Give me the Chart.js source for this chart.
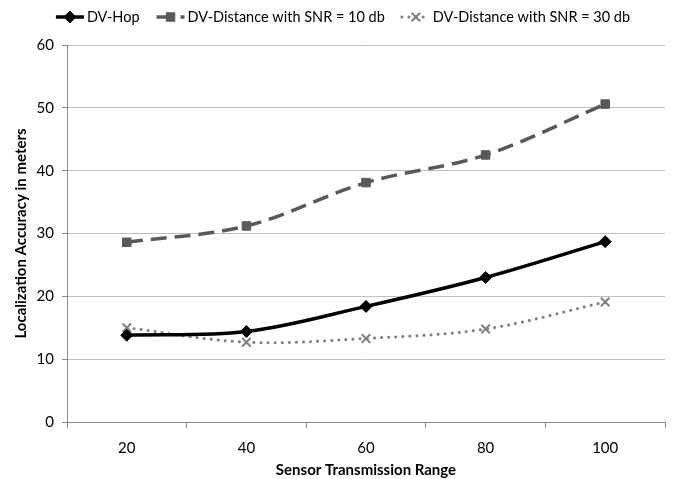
<!DOCTYPE html>
<html>
<head>
<meta charset="utf-8">
<script src="https://cdn.jsdelivr.net/npm/chart.js@4/dist/chart.umd.min.js"></script>
<style>
html,body{margin:0;padding:0;background:#fff;}
canvas{display:block;}
</style>
</head>
<body>
<canvas id="c" width="673" height="479"></canvas>
<script>
const categories = ["20", "40", "60", "80", "100"];
const dvHop = [13.8, 14.4, 18.4, 23.0, 28.7];
const dvDist10 = [28.6, 31.2, 38.1, 42.5, 50.6];
const dvDist30 = [15.0, 12.7, 13.3, 14.8, 19.1];
const seriesNames = ["DV-Hop", "DV-Distance with SNR = 10 db", "DV-Distance with SNR = 30 db"];
const yTitle = "Localization Accuracy in meters";
const xTitle = "Sensor Transmission Range";

const FONT = "Lato, 'Liberation Sans', sans-serif";

const legendPlugin = {
  id: 'customLegend',
  afterDraw(chart) {
    const ctx = chart.ctx;
    ctx.save();
    ctx.font = "14.5px " + FONT;
    ctx.textBaseline = 'middle';
    ctx.fillStyle = '#000';
    const lineLen = 28, gapText = 3, gapItem = 17;
    const ds = chart.data.datasets;
    let total = 0;
    const widths = ds.map(d => ctx.measureText(d.label).width);
    widths.forEach((w, i) => { total += lineLen + gapText + w + (i < widths.length - 1 ? gapItem : 0); });
    let x = 343 - total / 2;
    const y = 17;
    ds.forEach((d, i) => {
      ctx.save();
      ctx.strokeStyle = d.borderColor;
      ctx.lineWidth = d.borderWidth;
      ctx.lineCap = d.borderCapStyle || 'butt';
      ctx.setLineDash(d.legendDash || []);
      ctx.beginPath();
      ctx.moveTo(x, y);
      ctx.lineTo(x + lineLen, y);
      ctx.stroke();
      ctx.restore();
      ctx.save();
      ctx.setLineDash([]);
      ctx.strokeStyle = d.pointBorderColor; ctx.fillStyle = d.pointBackgroundColor;
      ctx.lineWidth = d.pointBorderWidth;
      Chart.helpers.drawPoint(ctx, {
        pointStyle: d.pointStyle,
        radius: d.pointRadius,
        borderWidth: d.pointBorderWidth,
        rotation: 0
      }, x + lineLen / 2, y);
      ctx.restore();
      ctx.fillStyle = '#000';
      ctx.textAlign = 'left';
      ctx.fillText(d.label, x + lineLen + gapText, y);
      x += lineLen + gapText + widths[i] + gapItem;
    });
    ctx.restore();
  }
};

new Chart(document.getElementById('c'), {
  type: 'line',
  data: {
    labels: categories,
    datasets: [
      {
        label: seriesNames[0],
        data: dvHop,
        borderColor: '#000000',
        backgroundColor: '#000000',
        borderWidth: 3.5,
        tension: 0.35,
        pointStyle: 'rectRot',
        pointRadius: 6,
        pointBorderWidth: 1,
        pointBackgroundColor: '#000000',
        pointBorderColor: '#000000'
      },
      {
        label: seriesNames[1],
        data: dvDist10,
        borderColor: '#595959',
        backgroundColor: '#595959',
        borderWidth: 3.5,
        borderDash: [16, 8],
        legendDash: [16, 8],
        tension: 0.35,
        pointStyle: 'rect',
        pointRadius: 6,
        pointBorderWidth: 1,
        pointBackgroundColor: '#595959',
        pointBorderColor: '#595959'
      },
      {
        label: seriesNames[2],
        data: dvDist30,
        borderColor: '#808080',
        backgroundColor: '#808080',
        borderWidth: 3,
        borderDash: [0.1, 7],
        legendDash: [0.1, 7],
        borderCapStyle: 'round',
        tension: 0.35,
        pointStyle: 'crossRot',
        pointRadius: 6,
        pointBorderWidth: 2,
        pointBackgroundColor: '#808080',
        pointBorderColor: '#808080'
      }
    ]
  },
  options: {
    responsive: false,
    animation: false,
    layout: { padding: { top: 45, right: 3, left: 0, bottom: 0 } },
    plugins: {
      legend: { display: false },
      tooltip: { enabled: false }
    },
    scales: {
      x: {
        type: 'category',
        offset: true,
        grid: { offset: true, drawOnChartArea: false, drawTicks: true, tickLength: 6, color: '#888888', tickColor: '#888888' },
        border: { color: '#888888', width: 1 },
        ticks: { color: '#000', font: { family: FONT, size: 15 }, padding: 11 },
        title: { display: true, text: xTitle, color: '#000', font: { family: FONT, size: 15, weight: 'bold' }, padding: { top: 0, bottom: 0 } },
        afterFit(scale) { scale.height = 57; }
      },
      y: {
        min: 0,
        max: 60,
        ticks: { stepSize: 10, color: '#000', font: { family: FONT, size: 15 }, padding: 8 },
        grid: { color: '#c0c0c0', tickColor: '#888888', tickLength: 5 },
        border: { color: '#888888', width: 1 },
        title: { display: true, text: yTitle, color: '#000', font: { family: FONT, size: 15, weight: 'bold' }, padding: { top: 12, bottom: 4 } },
        afterFit(scale) { scale.width = 67; }
      }
    }
  },
  plugins: [legendPlugin]
});
</script>
</body>
</html>
